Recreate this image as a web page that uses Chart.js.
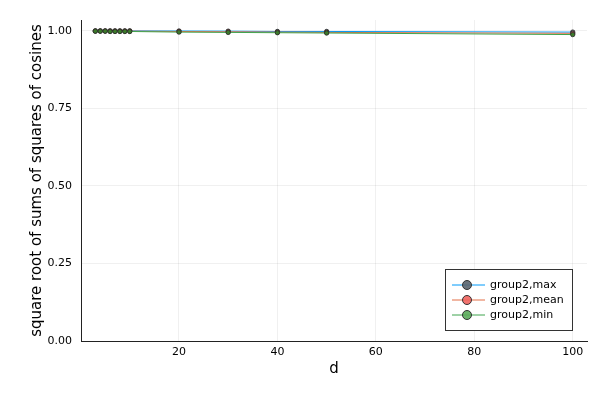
<!DOCTYPE html>
<html>
<head>
<meta charset="utf-8">
<script src="https://cdn.jsdelivr.net/npm/chart.js@4/dist/chart.umd.min.js"></script>
<style>
  html, body { margin: 0; padding: 0; background: #fff; }
  #wrap { width: 600px; height: 400px; }
</style>
</head>
<body>
<div id="wrap"><canvas id="c"></canvas></div>
<script>
const dValues = [3, 4, 5, 6, 7, 8, 9, 10, 20, 30, 40, 50, 100];
const maxValues = [1, 1, 1, 1, 1, 1, 1, 1, 0.9995, 0.999, 0.998, 0.998, 0.996];
const meanValues = [0.9995, 0.9995, 0.9995, 0.9995, 0.9995, 0.9994, 0.9994, 0.9993, 0.998, 0.997, 0.996, 0.995, 0.992];
const minValues = [0.999, 0.999, 0.999, 0.998, 0.998, 0.998, 0.998, 0.998, 0.996, 0.995, 0.994, 0.993, 0.988];
const seriesNames = ['group2,max', 'group2,mean', 'group2,min'];
const yTicks = [0, 0.25, 0.5, 0.75, 1];
const xTicks = [20, 40, 60, 80, 100];

const lineColors = ['#009AFA', '#E36F47', '#3EA44E'];
const markerColors = ['rgba(90,100,110,0.9)', 'rgba(240,100,95,0.9)', 'rgba(90,170,90,0.9)'];
const font = 'DejaVu Sans';

const toPoints = vals => vals.map((v, i) => ({ x: dValues[i], y: v }));

// legend box inside the plot, bottom right
const insideLegend = {
  id: 'insideLegend',
  afterDraw(chart) {
    const ctx = chart.ctx;
    const left = 445, top = 269, w = 127, h = 61;
    ctx.save();
    ctx.fillStyle = '#fff';
    ctx.fillRect(left, top, w, h);
    ctx.strokeStyle = '#333';
    ctx.lineWidth = 1;
    ctx.strokeRect(left + 0.5, top + 0.5, w, h);
    seriesNames.forEach((name, i) => {
      const y = 285 + i * 15;
      ctx.strokeStyle = lineColors[i];
      ctx.beginPath();
      ctx.moveTo(452, y);
      ctx.lineTo(485, y);
      ctx.stroke();
      ctx.fillStyle = markerColors[i];
      ctx.strokeStyle = '#333';
      ctx.beginPath();
      ctx.arc(467, y, 4.5, 0, Math.PI * 2);
      ctx.fill();
      ctx.stroke();
      ctx.fillStyle = '#000';
      ctx.font = '11px "' + font + '"';
      ctx.textBaseline = 'middle';
      ctx.fillText(name, 490, y);
    });
    ctx.restore();
  }
};

const datasets = [maxValues, meanValues, minValues].map((vals, i) => ({
  label: seriesNames[i],
  data: toPoints(vals),
  order: 2 - i,
  borderColor: lineColors[i],
  borderWidth: 1,
  pointRadius: 2.2,
  pointBackgroundColor: i === 2 ? '#3c7a2a' : markerColors[i],
  pointBorderColor: '#2a2a2a',
  pointBorderWidth: 0.8,
  tension: 0
}));

new Chart(document.getElementById('c'), {
  type: 'line',
  data: { datasets },
  options: {
    responsive: true,
    maintainAspectRatio: false,
    animation: false,
    layout: { padding: { left: 0, right: 13, top: 20, bottom: 0 } },
    plugins: {
      legend: { display: false },
      tooltip: { enabled: false }
    },
    scales: {
      x: {
        type: 'linear',
        min: 0.09,
        max: 102.9,
        afterBuildTicks: s => { s.ticks = xTicks.map(v => ({ value: v })); },
        afterFit: s => { s.height = 59; },
        grid: { color: 'rgba(0,0,0,0.06)', drawTicks: false },
        border: { color: '#222', width: 1 },
        ticks: { color: '#000', padding: 5, font: { family: font, size: 11 }, maxRotation: 0 },
        title: { display: true, text: 'd', color: '#000', font: { family: font, size: 15 }, padding: { top: 0, bottom: 22 } }
      },
      y: {
        min: 0,
        max: 1.035,
        afterBuildTicks: s => { s.ticks = yTicks.map(v => ({ value: v })); },
        afterFit: s => { s.width = 81; },
        grid: { color: 'rgba(0,0,0,0.06)', drawTicks: false },
        border: { color: '#222', width: 1 },
        ticks: { color: '#000', padding: 9, font: { family: font, size: 11 }, callback: v => v.toFixed(2) },
        title: { display: true, text: 'square root of sums of squares of cosines', color: '#000', font: { family: font, size: 15 }, padding: { top: 28, bottom: 0 } }
      }
    }
  },
  plugins: [insideLegend]
});
</script>
</body>
</html>
